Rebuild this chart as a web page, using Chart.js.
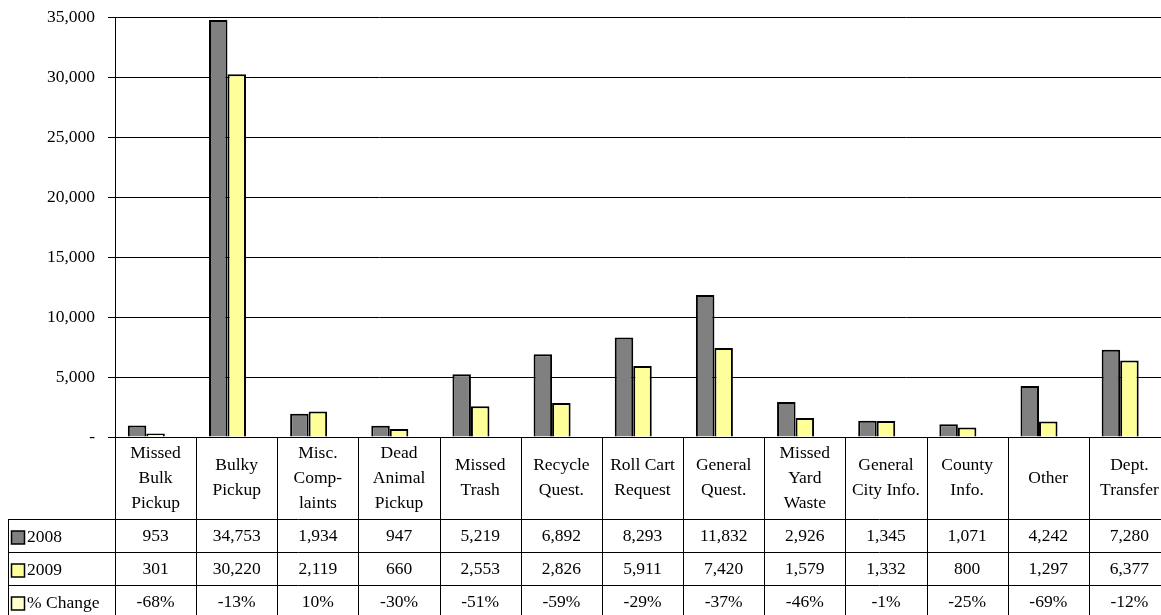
<!DOCTYPE html>
<html>
<head>
<meta charset="utf-8">
<script src="https://cdn.jsdelivr.net/npm/chart.js@4/dist/chart.umd.min.js"></script>
<style>
  html, body { margin: 0; padding: 0; background: #fff; overflow: hidden; }
  #wrap { width: 1172px; height: 615px; }
</style>
</head>
<body>
<div id="wrap"><canvas id="chart" width="1172" height="615"></canvas></div>
<script>
// Categorie (etichette su più righe come nella tabella)
const categories = [
  ["Missed", "Bulk", "Pickup"],
  ["Bulky", "Pickup"],
  ["Misc.", "Comp-", "laints"],
  ["Dead", "Animal", "Pickup"],
  ["Missed", "Trash"],
  ["Recycle", "Quest."],
  ["Roll Cart", "Request"],
  ["General", "Quest."],
  ["Missed", "Yard", "Waste"],
  ["General", "City Info."],
  ["County", "Info."],
  ["Other"],
  ["Dept.", "Transfer"]
];
const calls2008 = [953, 34753, 1934, 947, 5219, 6892, 8293, 11832, 2926, 1345, 1071, 4242, 7280];
const calls2009 = [301, 30220, 2119, 660, 2553, 2826, 5911, 7420, 1579, 1332, 800, 1297, 6377];
const pctChange = [-68, -13, 10, -30, -51, -59, -29, -37, -46, -1, -25, -69, -12];
const yTicks = [0, 5000, 10000, 15000, 20000, 25000, 30000, 35000];

const FONT = '"Liberation Serif", "Times New Roman", serif';

// Tabella dati disegnata sotto il grafico, allineata alla scala x
const tablePlugin = {
  id: "dataTable",
  afterDraw(chart) {
    const ctx = chart.ctx;
    const xs = chart.scales.x;
    const area = chart.chartArea;
    const colW = (area.right - area.left) / categories.length;
    const top = area.bottom;
    const headH = 82, rowH = 33, tableLeft = 8;
    const bottom = top + headH + rowH * 3;

    ctx.save();
    ctx.strokeStyle = "#000";
    ctx.lineWidth = 1;
    ctx.beginPath();
    // linee orizzontali
    for (let r = 0; r <= 3; r++) {
      const y = Math.round(top + headH + r * rowH) + 0.5;
      ctx.moveTo(tableLeft, y);
      ctx.lineTo(area.right, y);
    }
    // linee verticali
    for (let i = 0; i <= categories.length; i++) {
      const x = Math.round(area.left + i * colW) + 0.5;
      ctx.moveTo(x, top);
      ctx.lineTo(x, bottom);
    }
    ctx.moveTo(tableLeft + 0.5, top + headH);
    ctx.lineTo(tableLeft + 0.5, bottom);
    ctx.stroke();

    ctx.fillStyle = "#000";
    ctx.font = "17.5px " + FONT;
    ctx.textAlign = "center";
    ctx.textBaseline = "middle";

    categories.forEach((lines, i) => {
      const cx = xs.getPixelForValue(i);
      const lh = 25;
      const startY = top + headH / 2 - (lines.length - 1) * lh / 2;
      lines.forEach((t, k) => ctx.fillText(t, cx, startY + k * lh));
      const rowVals = [
        calls2008[i].toLocaleString("en-US"),
        calls2009[i].toLocaleString("en-US"),
        pctChange[i] + "%"
      ];
      rowVals.forEach((v, r) => {
        ctx.fillText(v, cx, top + headH + r * rowH + rowH / 2 + 1);
      });
    });

    // legenda nella tabella
    const keys = [
      { label: "2008", color: "#808080" },
      { label: "2009", color: "#FFFF99" },
      { label: "% Change", color: "#FFFFCC" }
    ];
    ctx.textAlign = "left";
    keys.forEach((k, r) => {
      const cy = top + headH + r * rowH + rowH / 2 + 2;
      ctx.fillStyle = k.color;
      ctx.fillRect(11.5, cy - 6.5, 13, 13);
      ctx.strokeStyle = "#000";
      ctx.lineWidth = 1.5;
      ctx.strokeRect(11.5, cy - 6.5, 13, 13);
      ctx.fillStyle = "#000";
      ctx.fillText(k.label, 27, cy);
    });
    ctx.restore();
  }
};

const config = {
  type: "bar",
  data: {
    labels: categories.map(c => c.join(" ")),
    datasets: [
      {
        label: "2008",
        data: calls2008,
        backgroundColor: "#808080",
        borderColor: "#000",
        borderWidth: 2,
        borderSkipped: "bottom"
      },
      {
        label: "2009",
        data: calls2009,
        backgroundColor: "#FFFF99",
        borderColor: "#000",
        borderWidth: 2,
        borderSkipped: "bottom"
      },
      {
        // spazio vuoto a destra, come nel grafico originale
        label: "",
        data: categories.map(() => null),
        backgroundColor: "rgba(0,0,0,0)"
      }
    ]
  },
  options: {
    responsive: false,
    animation: false,
    maintainAspectRatio: false,
    layout: { padding: { left: 0, right: 2, top: 0, bottom: 178 } },
    datasets: {
      bar: { barPercentage: 1, categoryPercentage: 0.684 }
    },
    scales: {
      x: {
        ticks: { display: false },
        grid: { display: false, drawTicks: false },
        border: { color: "#000", width: 1 }
      },
      y: {
        min: 0,
        max: 35000,
        afterFit(s) { s.width = 115; s.paddingTop = 17; s.paddingBottom = 0; },
        afterBuildTicks(s) { s.ticks = yTicks.map(v => ({ value: v })); },
        ticks: {
          color: "#000",
          padding: 13,
          font: { family: FONT, size: 17.5 },
          callback: v => (v === 0 ? "-" : v.toLocaleString("en-US"))
        },
        grid: { color: "#000", lineWidth: 1, tickLength: 7, tickColor: "#000" },
        border: { color: "#000", width: 1 }
      }
    },
    plugins: {
      legend: { display: false },
      tooltip: { enabled: false }
    }
  },
  plugins: [tablePlugin]
};

const ctx = document.getElementById("chart").getContext("2d");
const chart = new Chart(ctx, config);
</script>
</body>
</html>
